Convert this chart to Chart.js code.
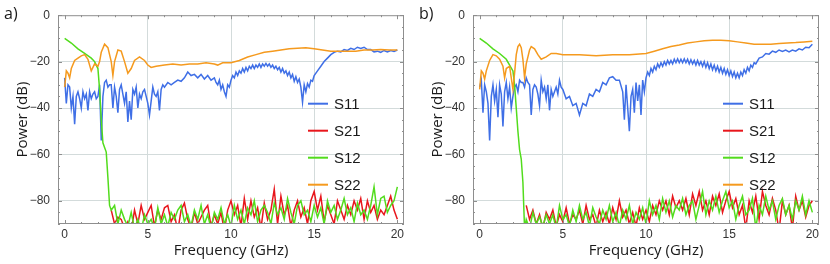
<!DOCTYPE html>
<html>
<head>
<meta charset="utf-8">
<script src="https://cdn.jsdelivr.net/npm/chart.js@4.4.1/dist/chart.umd.min.js"></script>
<style>
  body { margin: 0; background: #fff; }
  #wrap { display: flex; width: 830px; height: 264px; }
  canvas { display: block; }
</style>
</head>
<body>
<div id="wrap">
  <canvas id="chartA" width="415" height="264"></canvas>
  <canvas id="chartB" width="415" height="264"></canvas>
</div>
<script>
// evenly spaced frequency grid (GHz), both ends included
function range(a, b, step) {
  const n = Math.round((b - a) / step) + 1;
  return Array.from({ length: n }, (_, i) => +(a + i * step).toFixed(2));
}

// axis ticks
const xTicks = [0, 5, 10, 15, 20];
const yTicks = [0, -20, -40, -60, -80];
const seriesNames = ['S11', 'S21', 'S12', 'S22'];

// noise floor grid (2.8 .. 20 GHz)
const noiseFreq = range(2.8, 20, 0.2);

// ---- panel a) ----
const s11aFreq = [...range(0, 5.9, 0.1), ...range(6.0, 9.0, 0.2), ...range(9.1, 9.9, 0.1),
  ...range(10.0, 14.9, 0.1), ...range(15.0, 16.4, 0.2), ...range(16.6, 20.0, 0.2)];
const s11aDb = [
  -27, -38, -30, -31, -40, -35, -47, -35, -33, -36,
  -40, -33, -36, -34, -41, -33, -36, -34, -33, -36,
  -35, -30, -54, -35, -29, -28, -31, -30, -30, -40,
  -31, -35, -42, -32, -30, -34, -38, -33, -46, -37,
  -45, -32, -34, -31, -40, -34, -36, -33, -32, -35,
  -38, -43, -37, -31, -34, -35, -33, -41, -32, -30,
  -31, -29, -30, -29, -28, -28.5, -27, -24.5, -26, -25.5, -27, -25.5, -27.5, -26, -28, -27,
  -29, -30, -28, -32, -30, -33, -35, -30, -31,
  -28, -26, -27, -24.5, -26, -24, -25, -23, -24.5, -22.5,
  -24, -22, -23, -21.5, -23, -21.5, -22.5, -21, -22.5, -21,
  -22, -20.8, -22, -21, -22.5, -21.5, -23, -22, -23.5, -22.5,
  -24.5, -23, -25, -24, -26, -24.5, -27, -25.5, -28.5, -26.5,
  -29, -27.5, -31, -37.5, -30, -33, -29.5, -31, -28, -28.5,
  -26, -24, -22, -20, -18.5, -17, -16, -15.5,
  -15.8, -14.8, -15.2, -14.3, -14.8, -13.8, -14.3, -13.8, -14.8, -14.8, -15.8, -15.5, -16, -15.2, -15.8, -15.2, -15.6, -15];

const s22aFreq = [0, 0.1, 0.2, 0.3, 0.4, 0.6, 0.8, 1.0, 1.2, 1.4, 1.6, 1.8, 2.0, 2.1, 2.2, 2.4, 2.6, 2.8, 2.9, 3.0,
  3.2, 3.4, 3.6, 3.8, 4.0, 4.2, 4.5, 4.8, 5.0, 5.2, 5.5, 6.0, 6.5, 7.0, 7.5, 8.0, 8.5, 9.0, 9.2, 9.5,
  10.0, 10.5, 11.0, 11.5, 12.0, 12.5, 13.0, 13.5, 14.0, 14.5, 15.0, 15.5, 16.0, 16.5, 17.0, 17.5, 18.0,
  18.5, 19.0, 19.5, 20.0];
const s22aDb = [-31, -24, -25, -27, -23, -19.5, -18.5, -17.5, -17, -19, -24, -21, -22, -20, -16, -12.5, -14, -20, -26, -20,
  -15, -15.5, -20, -25, -23, -19.5, -18, -19.5, -21.5, -22.5, -22, -21.5, -21, -21.5, -21, -21, -20.5, -21, -21.5, -20.5,
  -20.5, -19.5, -18, -17, -16, -15.5, -15, -14.5, -14.2, -14, -14.5, -15, -15.5, -15.5, -15.5, -15.5, -15,
  -15, -14.8, -15, -15];

const s12aDropFreq = [0, 0.4, 0.8, 1.2, 1.6, 1.8, 2.0, 2.1, 2.2, 2.3, 2.4, 2.5, 2.6, 2.7];
const s12aDropDb = [-10, -12, -14.5, -16.5, -18.5, -20, -23, -32, -45, -55, -57, -59, -70, -82];

const s21aNoise = [-84, -90, -87, -88, -92, -89, -93,
  -84, -90, -82, -88, -85,  -82, -91, -84, -88, -83,  -82, -89, -86, -93, -84,
  -81, -88, -92, -85, -90,  -87, -84, -82, -91, -86,  -90, -85, -93, -84, -80,
  -86, -82, -91, -79, -88,  -80, -87, -83, -92, -81,  -88, -84, -75, -90, -78,
  -86, -82, -91, -84, -80,  -87, -83, -90, -80, -76,  -84, -78, -89, -82, -86,
  -90, -80, -84, -88, -82,  -86, -80, -84, -79, -88,  -80, -85, -82, -88, -84,
  -86, -82, -78, -84, -88];
const s12aNoise = [-84, -82, -90, -84, -88, -91, -85,
  -92, -88, -93, -86, -90,  -88, -92, -83, -90, -86,  -91, -85, -88, -84, -82,
  -89, -86, -91, -84, -88,  -82, -90, -86, -92, -85,  -88, -83, -90, -86, -91,
  -82, -88, -84, -90, -83,  -86, -80, -89, -84, -82,  -85, -90, -81, -86, -83,
  -88, -79, -85, -90, -82,  -80, -86, -84, -89, -82,  -87, -83, -90, -80, -85,
  -82, -88, -84, -79, -86,  -83, -89, -81, -86, -84,  -88, -82, -74, -86, -79,
  -78, -85, -82, -80, -74];

// ---- panel b) ----
const s11bFreq = [...range(0, 4.9, 0.1), ...range(5.0, 8.6, 0.2), ...range(8.7, 9.9, 0.1),
  ...range(10.0, 16.6, 0.1), ...range(16.8, 20.0, 0.2)];
const s11bDb = [
  -31, -28, -42, -30, -33, -38, -54, -35, -30, -37,
  -32, -44, -30, -34, -48, -33, -29, -36, -31, -40,
  -35, -31, -30, -33, -28, -29, -29, -31, -27, -29,
  -30, -43, -32, -30, -31, -34, -39, -28, -33, -31,
  -36, -30, -41, -32, -35, -33, -31, -34, -28, -31,
  -32, -36, -35, -39, -38, -43, -38, -39, -34, -35, -32, -33, -29, -30, -27, -26.5, -28, -28, -33,
  -45, -30, -40, -50, -35, -32, -42, -29, -37, -30, -43, -28, -33,
  -27, -24.5, -26, -23, -24.5, -22, -23.5, -21, -22.5, -20.5,
  -22, -20, -21.5, -19.5, -21, -19.5, -21, -19, -20.5, -18.8,
  -20.5, -19, -20.5, -18.8, -20.5, -19, -21, -19.2, -21, -19.5,
  -21.5, -19.5, -21.5, -20, -22, -20, -22.5, -20.5, -23, -21,
  -23.5, -21.5, -24, -22, -24.5, -22.5, -25, -23, -25.5, -23.5,
  -26, -24, -26.5, -24.5, -27, -25, -27, -24.5, -26, -23.5,
  -25, -22.5, -24, -21.5, -22.5, -20.5, -21,
  -18.5, -18, -16.5, -16.8, -15.5, -16, -15, -15.6, -15, -15.8, -15, -15.5, -14.5, -15, -13.8, -14, -12.5];

const s22bFreq = [0, 0.1, 0.2, 0.3, 0.4, 0.6, 0.8, 1.0, 1.2, 1.4, 1.5, 1.6, 1.8, 2.0, 2.1, 2.2, 2.3, 2.4, 2.5, 2.6,
  2.7, 2.8, 3.0, 3.1, 3.3, 3.5, 3.7, 4.0, 4.3, 4.6, 5.0, 5.5, 6.0, 7.0, 8.0, 9.0, 10.0, 10.5, 11.0, 11.5,
  12.0, 12.5, 13.0, 13.5, 14.0, 14.5, 15.0, 15.5, 16.0, 16.5, 17.0, 17.5, 18.0, 18.5, 19.0, 19.5, 20.0];
const s22bDb = [-32, -24, -25, -27.5, -24, -19.5, -17, -17.5, -19, -22, -27, -23, -22, -32, -25, -17, -13.5, -12.5, -14, -19,
  -27, -21, -15, -13.5, -14.5, -17, -19, -18, -16.5, -16.5, -17, -17, -17, -17.5, -17, -17, -16.5, -15.5, -14.5, -13.5,
  -12.8, -12, -11.5, -11, -10.8, -10.8, -11, -11.5, -12, -12.5, -12.5, -12.5, -12.2, -12, -11.8, -11.5, -11.2];

const s12bDropFreq = [0, 0.4, 0.8, 1.2, 1.6, 2.0, 2.1, 2.2, 2.3, 2.4, 2.5, 2.6, 2.7];
const s12bDropDb = [-10, -12, -14.5, -16.5, -19, -24, -30, -40, -50, -58, -62, -72, -92];

const s21bNoise = [-82, -88, -84, -90, -86, -92, -85,
  -88, -84, -91, -86, -89,  -83, -90, -86, -88, -84,  -90, -82, -88, -86, -91,
  -84, -89, -85, -90, -83,  -88, -80, -87, -84, -90,  -85, -91, -83, -88, -84,
  -89, -82, -86, -80, -84,  -80, -86, -78, -83, -80,  -84, -79, -86, -77, -82,
  -76, -84, -80, -86, -78,  -82, -77, -85, -80, -76,  -83, -79, -86, -82, -92,
  -80, -85, -78, -88, -76,  -82, -86, -79, -84, -93,  -80, -86, -82, -92, -78,
  -84, -80, -87, -82, -80];
const s12bNoise = [-88, -92, -85, -90, -87, -91, -86,
  -90, -86, -92, -82, -88,  -86, -91, -84, -89, -82,  -88, -85, -91, -83, -87,
  -90, -84, -88, -82, -89,  -85, -91, -84, -88, -82,  -90, -85, -88, -83, -90,
  -80, -86, -82, -88, -79,  -85, -80, -87, -82, -84,  -79, -86, -82, -80, -88,
  -82, -76, -86, -80, -84,  -78, -85, -80, -76, -83,  -80, -88, -82, -78, -86,
  -84, -79, -92, -82, -86,  -78, -84, -80, -88, -82,  -79, -86, -82, -88, -80,
  -84, -78, -86, -80, -85];

const colors = { S11: '#3f6fe6', S21: '#e8161c', S12: '#52dc1c', S22: '#f59a1e' };

function pts(fs, ds) {
  return fs.map((f, i) => ({ x: f, y: ds[i] }));
}

// frame, inward ticks, inside legend, panel letter and axis titles
const framePlugin = {
  id: 'frame',
  afterDraw(chart, args, opts) {
    const { ctx, chartArea: a } = chart;
    const x = chart.scales.x, y = chart.scales.y;
    ctx.save();
    ctx.strokeStyle = '#8e8e8e';
    ctx.lineWidth = 1;
    ctx.strokeRect(a.left + 0.5, a.top + 0.5, a.width - 1, a.height - 1);
    ctx.beginPath();
    for (let f = 0; f <= 20; f++) {
      const px = Math.round(x.getPixelForValue(f)) + 0.5;
      const len = f % 5 === 0 ? 4 : 2;
      ctx.moveTo(px, a.bottom); ctx.lineTo(px, a.bottom - len);
      ctx.moveTo(px, a.top); ctx.lineTo(px, a.top + len);
    }
    for (let d = 0; d >= -90; d -= 5) {
      const py = Math.round(y.getPixelForValue(d)) + 0.5;
      const len = d % 20 === 0 ? 4 : 2;
      ctx.moveTo(a.left, py); ctx.lineTo(a.left + len, py);
      ctx.moveTo(a.right, py); ctx.lineTo(a.right - len, py);
    }
    ctx.stroke();

    // legend
    ctx.font = '15px "Liberation Sans", Arial, sans-serif';
    ctx.textBaseline = 'middle';
    ctx.textAlign = 'left';
    seriesNames.forEach((name, i) => {
      const ly = a.top + 88.5 + i * 27;
      ctx.strokeStyle = colors[name];
      ctx.lineWidth = 2;
      ctx.beginPath();
      ctx.moveTo(a.left + 250, ly); ctx.lineTo(a.left + 270, ly);
      ctx.stroke();
      ctx.fillStyle = '#1a1a1a';
      ctx.fillText(name, a.left + 276, ly + 1);
    });

    // panel letter
    ctx.font = '16px "Open Sans", sans-serif';
    ctx.fillStyle = '#1a1a1a';
    ctx.fillText(opts.label, 4, 14);

    // axis titles
    ctx.font = '15px "Open Sans", sans-serif';
    ctx.textAlign = 'center';
    ctx.fillText('Frequency (GHz)', (a.left + a.right) / 2, 251);
    ctx.translate(23, (a.top + a.bottom) / 2);
    ctx.rotate(-Math.PI / 2);
    ctx.fillText('Power (dB)', 0, 0);
    ctx.restore();
  }
};

function makeChart(id, label, s11, s21, s12, s22) {
  const line = (name, data, order) => ({
    label: name, data: data, borderColor: colors[name], borderWidth: 1.5,
    pointRadius: 0, fill: false, tension: 0, order: order
  });
  new Chart(document.getElementById(id), {
    type: 'line',
    data: {
      datasets: [
        line('S11', s11, 4),
        line('S21', s21, 3),
        line('S12', s12, 2),
        line('S22', s22, 1)
      ]
    },
    options: {
      responsive: false,
      animation: false,
      events: [],
      layout: { padding: { top: 9, right: 11, left: 0, bottom: 0 } },
      plugins: { legend: { display: false }, tooltip: { enabled: false }, frame: { label: label } },
      scales: {
        x: {
          type: 'linear', min: -0.4, max: 20.4,
          afterBuildTicks: axis => { axis.ticks = xTicks.map(v => ({ value: v })); },
          afterFit: axis => { axis.height = 40; },
          border: { display: false },
          grid: {
            drawTicks: false,
            color: c => (c.tick && (c.tick.value === 0 || c.tick.value === 20)) ? 'rgba(0,0,0,0)' : '#d3dbdb'
          },
          ticks: {
            padding: 3, maxRotation: 0, color: '#333',
            font: { family: '"Liberation Sans", Arial, sans-serif', size: 12 }
          }
        },
        y: {
          min: -90, max: 0,
          afterBuildTicks: axis => { axis.ticks = yTicks.map(v => ({ value: v })); },
          afterFit: axis => { axis.width = 58; },
          border: { display: false },
          grid: {
            drawTicks: false,
            color: c => (c.tick && c.tick.value === 0) ? 'rgba(0,0,0,0)' : '#d3dbdb'
          },
          ticks: {
            padding: 8, color: '#333',
            font: { family: '"Liberation Sans", Arial, sans-serif', size: 12 },
            callback: v => v === 0 ? '0' : '\u2212' + Math.abs(v)
          }
        }
      }
    },
    plugins: [framePlugin]
  });
}

document.addEventListener('DOMContentLoaded', function () {
  makeChart('chartA', 'a)',
    pts(s11aFreq, s11aDb),
    pts(noiseFreq, s21aNoise),
    pts(s12aDropFreq, s12aDropDb).concat(pts(noiseFreq, s12aNoise)),
    pts(s22aFreq, s22aDb));
  makeChart('chartB', 'b)',
    pts(s11bFreq, s11bDb),
    pts(noiseFreq, s21bNoise),
    pts(s12bDropFreq, s12bDropDb).concat(pts(noiseFreq, s12bNoise)),
    pts(s22bFreq, s22bDb));
});
</script>
</body>
</html>
